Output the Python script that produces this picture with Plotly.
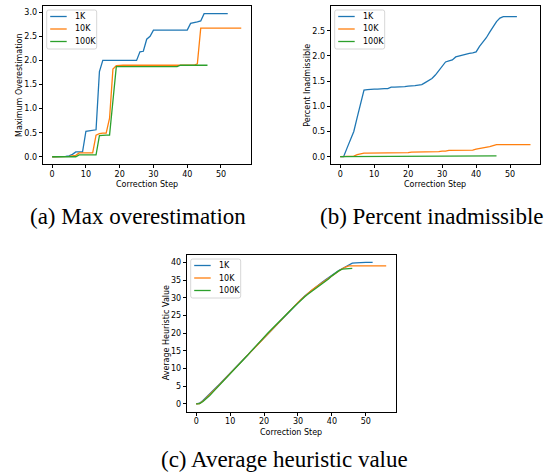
import plotly.graph_objects as go

# ---------------- data ----------------
steps_1k = list(range(0, 53))
steps_10k = list(range(0, 57))
steps_100k = list(range(0, 47))

series_names = ["1K", "10K", "100K"]
colors = ["#1f77b4", "#ff7f0e", "#2ca02c"]

maxover_1k = [0.0, 0.0, 0.01, 0.01, 0.01, 0.02, 0.05, 0.1, 0.1, 0.1,
              0.53, 0.54, 0.55, 0.56, 1.77, 2.0, 2.0, 2.0, 2.0, 2.0,
              2.0, 2.0, 2.0, 2.0, 2.0, 2.0, 2.18, 2.19, 2.44, 2.5,
              2.63, 2.63, 2.63, 2.63, 2.63, 2.63, 2.63, 2.63, 2.63, 2.63,
              2.63, 2.77, 2.78, 2.8, 2.82, 2.97, 2.97, 2.97, 2.97, 2.97,
              2.97, 2.97, 2.97]
maxover_10k = [0.0, 0.0, 0.0, 0.0, 0.0, 0.01, 0.02, 0.03, 0.08, 0.08,
               0.08, 0.08, 0.08, 0.45, 0.48, 0.49, 0.49, 0.8, 1.82, 1.89,
               1.9, 1.9, 1.9, 1.9, 1.9, 1.9, 1.9, 1.9, 1.9, 1.9,
               1.9, 1.9, 1.9, 1.9, 1.9, 1.9, 1.9, 1.9, 1.9, 1.9,
               1.9, 1.9, 1.9, 1.93, 2.67, 2.67, 2.67, 2.67, 2.67, 2.67,
               2.67, 2.67, 2.67, 2.67, 2.67, 2.67, 2.67]
maxover_100k = [0.0, 0.0, 0.0, 0.0, 0.0, 0.0, 0.0, 0.0, 0.04, 0.04,
                0.04, 0.04, 0.04, 0.04, 0.44, 0.45, 0.45, 0.45, 1.15, 1.87,
                1.87, 1.87, 1.87, 1.87, 1.87, 1.87, 1.87, 1.87, 1.87, 1.87,
                1.87, 1.87, 1.87, 1.87, 1.87, 1.87, 1.87, 1.87, 1.9, 1.9,
                1.9, 1.9, 1.9, 1.9, 1.9, 1.9, 1.9]

inadm_1k = [0.0, 0.0, 0.17, 0.33, 0.5, 0.78, 1.06, 1.32, 1.33, 1.34,
            1.34, 1.34, 1.35, 1.35, 1.35, 1.38, 1.38, 1.38, 1.39, 1.39,
            1.4, 1.4, 1.41, 1.42, 1.43, 1.47, 1.51, 1.55, 1.62, 1.7,
            1.79, 1.88, 1.9, 1.92, 1.98, 2.0, 2.02, 2.03, 2.05, 2.06,
            2.08, 2.19, 2.27, 2.36, 2.47, 2.58, 2.68, 2.75, 2.78, 2.78,
            2.78, 2.78, 2.78]
inadm_10k = [0.0, 0.0, 0.0, 0.0, 0.01, 0.04, 0.06, 0.07, 0.07, 0.07,
             0.07, 0.07, 0.07, 0.07, 0.07, 0.075, 0.075, 0.075, 0.08, 0.08,
             0.08, 0.09, 0.09, 0.09, 0.09, 0.09, 0.1, 0.1, 0.1, 0.1,
             0.11, 0.11, 0.125, 0.125, 0.125, 0.125, 0.125, 0.125, 0.125, 0.13,
             0.15, 0.16, 0.17, 0.18, 0.2, 0.22, 0.24, 0.24, 0.24, 0.24,
             0.24, 0.24, 0.24, 0.24, 0.24, 0.24, 0.24]
inadm_100k = [0.0, 0.0, 0.0, 0.0, 0.0, 0.0, 0.0, 0.0, 0.0, 0.0,
              0.0, 0.0, 0.0, 0.0, 0.0, 0.0, 0.0, 0.0, 0.0, 0.0,
              0.0, 0.0, 0.0, 0.0, 0.0, 0.0, 0.005, 0.005, 0.005, 0.005,
              0.005, 0.005, 0.005, 0.005, 0.005, 0.005, 0.01, 0.01, 0.01, 0.01,
              0.01, 0.01, 0.01, 0.015, 0.015, 0.015, 0.015]

avgh_1k = [0.0, 0.2, 1.0, 1.9, 2.8, 3.8, 4.8, 5.7, 6.7, 7.7,
           8.7, 9.7, 10.7, 11.7, 12.7, 13.7, 14.8, 15.8, 16.8, 17.9,
           18.9, 19.9, 20.9, 21.9, 22.9, 23.9, 24.9, 25.8, 26.8, 27.7,
           28.7, 29.6, 30.5, 31.3, 32.1, 32.9, 33.6, 34.3, 35.0, 35.7,
           36.4, 37.1, 37.7, 38.2, 38.7, 39.3, 39.8, 39.9, 40.0, 40.0,
           40.0, 40.0, 40.0]
avgh_10k = [0.0, 0.1, 0.8, 1.7, 2.6, 3.6, 4.6, 5.6, 6.6, 7.6,
            8.6, 9.6, 10.6, 11.6, 12.6, 13.7, 14.8, 15.8, 16.8, 17.9,
            18.9, 19.9, 20.9, 21.9, 22.9, 23.9, 24.9, 25.8, 26.8, 27.7,
            28.7, 29.6, 30.5, 31.3, 32.1, 32.8, 33.5, 34.2, 34.9, 35.6,
            36.3, 37.0, 37.6, 38.2, 38.7, 39.0, 39.0, 39.0, 39.0, 39.0,
            39.0, 39.0, 39.0, 39.0, 39.0, 39.0, 39.0]
avgh_100k = [0.0, 0.1, 0.7, 1.5, 2.4, 3.4, 4.4, 5.4, 6.4, 7.4,
             8.4, 9.4, 10.5, 11.5, 12.6, 13.6, 14.7, 15.8, 16.8, 17.8,
             18.9, 19.9, 20.9, 21.9, 22.9, 23.9, 24.8, 25.8, 26.7, 27.6,
             28.5, 29.5, 30.3, 31.1, 31.8, 32.5, 33.1, 33.7, 34.5, 35.3,
             36.2, 37.0, 37.6, 38.1, 38.2, 38.3, 38.3]

x_title = "Correction Step"
y_titles = ["Maximum Overestimation", "Percent Inadmissible", "Average Heuristic Value"]
captions = ["(a) Max overestimation", "(b) Percent inadmissible", "(c) Average heuristic value"]
x_ticks = [0, 10, 20, 30, 40, 50]

panels = [
    dict(ys=[maxover_1k, maxover_10k, maxover_100k],
         yticks=[0, 0.5, 1.0, 1.5, 2.0, 2.5, 3.0], yrange=[-0.15, 3.13], fmt=".1f",
         box=(42.7, 6, 250.7, 164), ytx=20, cap=(138, 216)),
    dict(ys=[inadm_1k, inadm_10k, inadm_100k],
         yticks=[0, 0.5, 1.0, 1.5, 2.0, 2.5], yrange=[-0.145, 2.99], fmt=".1f",
         box=(330.7, 6, 540, 164), ytx=307.7, cap=(432, 216)),
    dict(ys=[avgh_1k, avgh_10k, avgh_100k],
         yticks=[0, 5, 10, 15, 20, 25, 30, 35, 40], yrange=[-2.2, 42.1], fmt="d",
         box=(186.7, 255, 395.7, 411.7), ytx=166, cap=(284, 459)),
]
xs_all = [steps_1k, steps_10k, steps_100k]

W, H = 553, 472
def px(x):
    return x / W
def py(y):
    return 1 - y / H

TICKFONT = dict(family="DejaVu Sans", size=8, color="#000000")

fig = go.Figure()
layout = dict(width=W, height=H, autosize=False,
              margin=dict(l=0, r=0, t=0, b=0),
              paper_bgcolor="white", plot_bgcolor="white",
              showlegend=False)
shapes = []
annotations = []

for i, p in enumerate(panels):
    n = "" if i == 0 else str(i + 1)
    xa, ya = "x" + n, "y" + n
    l, t, r, b = p["box"]
    for k in range(3):
        fig.add_trace(go.Scatter(x=xs_all[k], y=p["ys"][k], mode="lines",
                                 name=series_names[k],
                                 line=dict(color=colors[k], width=1.3),
                                 xaxis=xa, yaxis=ya))
    common = dict(showline=True, linecolor="#000000", linewidth=1, mirror=True,
                  ticks="outside", ticklen=3, tickwidth=1, tickcolor="#000000",
                  showgrid=False, zeroline=False, tickfont=TICKFONT)
    layout["xaxis" + n] = dict(domain=[px(l), px(r)], range=[-2.8, 58.8],
                               tickvals=x_ticks, anchor=ya, ticklabelstandoff=-1,
                               **common)
    layout["yaxis" + n] = dict(domain=[py(b), py(t)], range=p["yrange"],
                               tickvals=p["yticks"], tickformat=p["fmt"], anchor=xa,
                               **common)
    # axis titles
    annotations.append(dict(xref="paper", yref="paper", x=px((l + r) / 2), y=py(b + 20.5),
                            text=x_title, showarrow=False, xanchor="center",
                            yanchor="middle", font=TICKFONT))
    annotations.append(dict(xref="paper", yref="paper", x=px(p["ytx"]), y=py((t + b) / 2),
                            text=y_titles[i], showarrow=False, textangle=-90,
                            xanchor="center", yanchor="middle", font=TICKFONT))
    # legend (matplotlib style)
    bx0, by0, bx1, by1 = l + 4, t + 4, l + 54, t + 43
    rr = 2
    path = (f"M {px(bx0+rr)},{py(by0)} L {px(bx1-rr)},{py(by0)} Q {px(bx1)},{py(by0)} {px(bx1)},{py(by0+rr)} "
            f"L {px(bx1)},{py(by1-rr)} Q {px(bx1)},{py(by1)} {px(bx1-rr)},{py(by1)} "
            f"L {px(bx0+rr)},{py(by1)} Q {px(bx0)},{py(by1)} {px(bx0)},{py(by1-rr)} "
            f"L {px(bx0)},{py(by0+rr)} Q {px(bx0)},{py(by0)} {px(bx0+rr)},{py(by0)} Z")
    shapes.append(dict(type="path", xref="paper", yref="paper", path=path,
                       fillcolor="rgba(255,255,255,0.8)",
                       line=dict(color="#cccccc", width=0.8)))
    for k in range(3):
        ry = t + 10.5 + 12.5 * k
        shapes.append(dict(type="line", xref="paper", yref="paper",
                           x0=px(l + 7.5), x1=px(l + 24), y0=py(ry), y1=py(ry),
                           line=dict(color=colors[k], width=1.3)))
        annotations.append(dict(xref="paper", yref="paper", x=px(l + 30), y=py(ry),
                                text=series_names[k], showarrow=False,
                                xanchor="left", yanchor="middle", font=TICKFONT))
    annotations.append(dict(xref="paper", yref="paper", x=px(p["cap"][0]), y=py(p["cap"][1]),
                            text=captions[i], showarrow=False,
                            xanchor="center", yanchor="middle",
                            font=dict(family="Liberation Serif, Times New Roman, serif",
                                      size=23, color="#000000")))

layout["shapes"] = shapes
layout["annotations"] = annotations
fig.update_layout(**layout)
fig.write_html("out.html", config={"displayModeBar": False},
               post_script="document.body.style.margin='0px';document.body.style.overflow='hidden';")
